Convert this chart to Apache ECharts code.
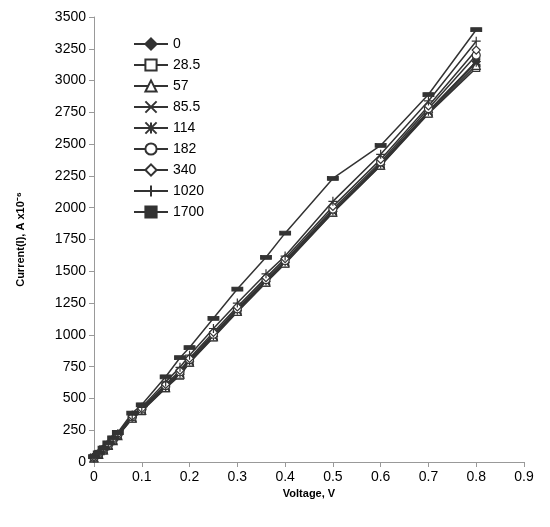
<!DOCTYPE html><html><head><meta charset="utf-8"><script src="https://cdn.jsdelivr.net/npm/echarts@6/dist/echarts.min.js"></script></head><body style="margin:0"><div id="c" style="width:550px;height:527px"></div><script>
const voltage=[0,0.01,0.02,0.03,0.04,0.05,0.08,0.1,0.15,0.18,0.2,0.25,0.3,0.36,0.4,0.5,0.6,0.7,0.8];
const names=['0','28.5','57','85.5','114','182','340','1020','1700'];
const s0   =[30,60,95,130,170,210,350,410,590,690,790,990,1190,1420,1570,1970,2340,2750,3150];
const s28  =[30,58,92,128,165,205,340,400,580,680,780,980,1180,1410,1560,1960,2330,2740,3100];
const s57  =[32,60,95,130,168,208,345,405,585,690,785,985,1185,1415,1565,1965,2335,2745,3120];
const s85  =[35,62,98,133,172,212,350,410,595,700,795,995,1195,1425,1575,1975,2345,2760,3150];
const s114 =[33,61,96,131,170,210,348,408,590,695,790,990,1190,1420,1570,1970,2340,2755,3140];
const s182 =[36,64,100,135,175,215,355,415,600,710,805,1005,1205,1435,1585,1990,2360,2780,3200];
const s340 =[38,66,102,138,178,218,360,420,610,720,815,1020,1220,1450,1600,2010,2380,2800,3240];
const s1020=[40,68,105,142,182,222,370,430,630,745,840,1050,1250,1480,1620,2050,2420,2840,3310];
const s1700=[42,72,110,150,190,232,385,450,670,820,900,1130,1360,1610,1800,2230,2490,2890,3400];
const data=[s0,s28,s57,s85,s114,s182,s340,s1020,s1700];
const X='path://M0,0L10,10M10,0L0,10', PL='path://M5,0L5,10M0,5L10,5', AST='path://M0,0L10,10M10,0L0,10M5,0L5,10';
const syms=[['diamond',true,8],['rect',false,7],['triangle',false,8],[X,false,8],[AST,false,8],['circle',false,8],['diamond',false,8],[PL,false,9],['rect',true,[10,4]]];
const series=names.map((n,i)=>({name:n,type:'line',data:voltage.map((v,j)=>[v,data[i][j]]),
 symbol:syms[i][0],symbolSize:syms[i][2],showSymbol:true,
 itemStyle:{color:syms[i][1]?'#333':'#fff',borderColor:'#333',borderWidth:1.2},
 lineStyle:{color:'#333',width:1.5}}));
const chart=echarts.init(document.getElementById('c'));
chart.setOption({animation:false,backgroundColor:'#fff',
 grid:{left:94,right:26,top:17,bottom:65},
 legend:{orient:'vertical',left:128,top:32,itemGap:7,itemWidth:34,itemHeight:14,textStyle:{fontFamily:'Liberation Sans',fontSize:14,color:'#000'},
  data:names},
 xAxis:{type:'value',min:0,max:0.9,interval:0.1,name:'Voltage, V',nameLocation:'middle',nameGap:23,
  nameTextStyle:{fontFamily:'Liberation Sans',fontWeight:'bold',fontSize:11,color:'#000'},
  axisLine:{lineStyle:{color:'#999'}},axisTick:{lineStyle:{color:'#999'}},splitLine:{show:false},
  axisLabel:{fontFamily:'Liberation Sans',fontSize:14,color:'#000',formatter:v=>v===0?'0':v.toFixed(1)}},
 yAxis:{type:'value',min:0,max:3500,interval:250,name:'Current(I), A x10⁻⁶',nameLocation:'middle',nameGap:68,
  nameTextStyle:{fontFamily:'Liberation Sans',fontWeight:'bold',fontSize:11,color:'#000'},
  axisLine:{show:true,lineStyle:{color:'#999'}},axisTick:{show:true,lineStyle:{color:'#999'}},splitLine:{show:false},
  axisLabel:{fontFamily:'Liberation Sans',fontSize:14,color:'#000',formatter:v=>String(v)}},
 series});
</script></body></html>
